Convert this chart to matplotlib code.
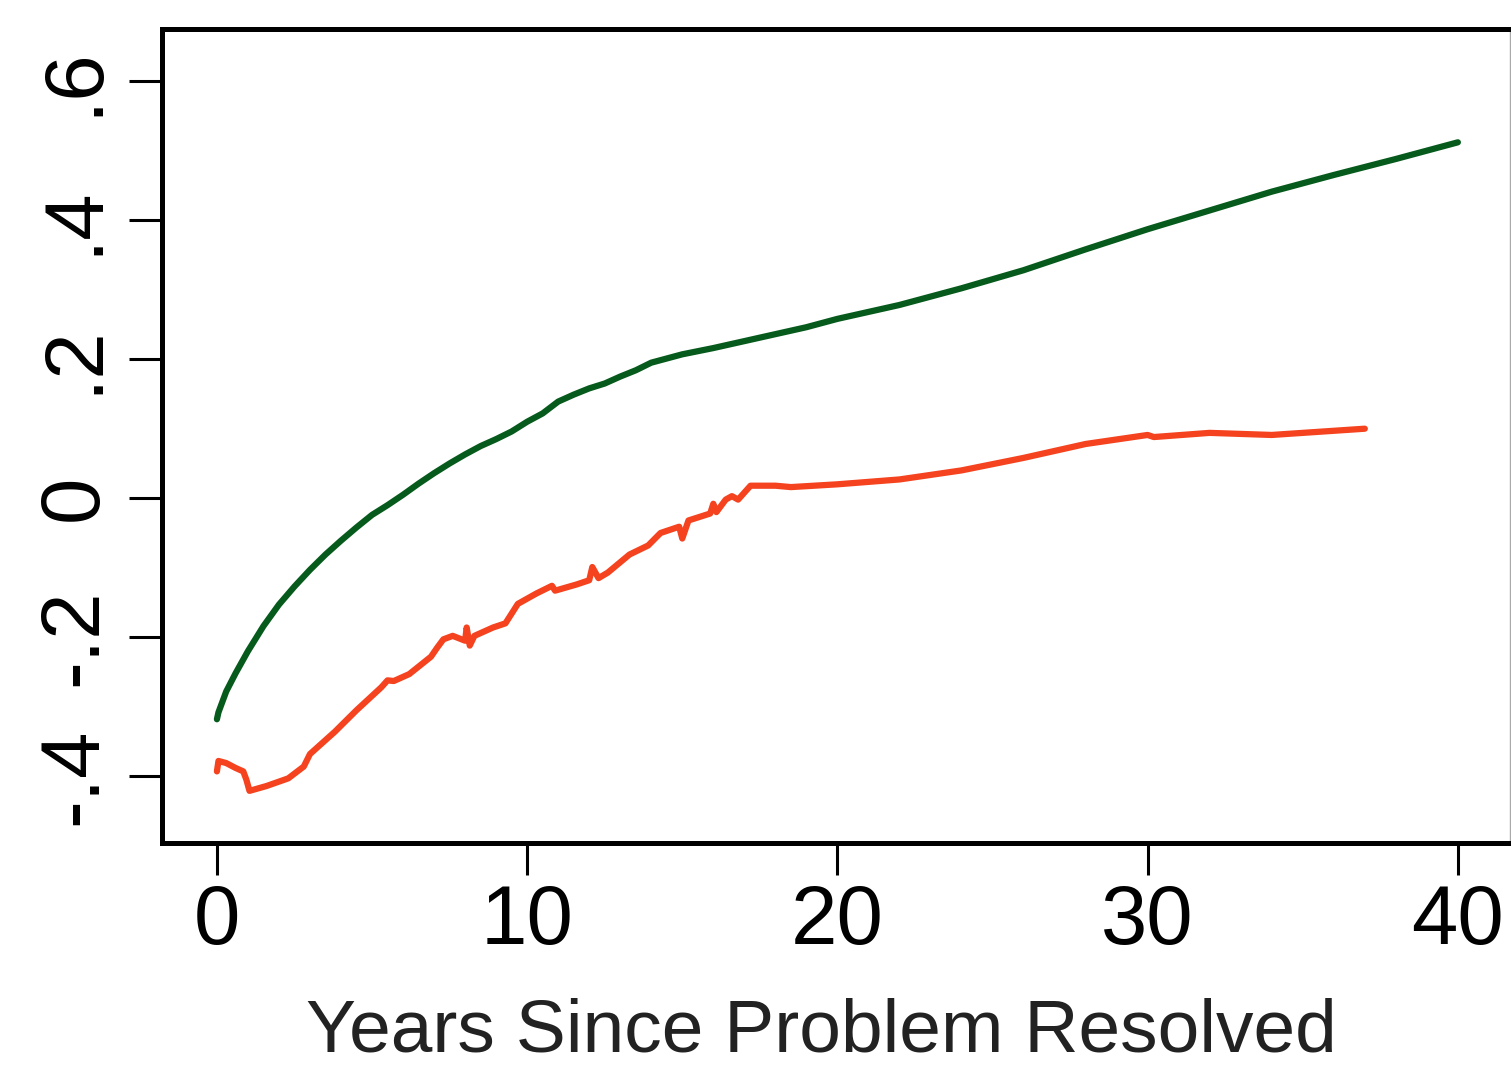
#!/usr/bin/env python3

import matplotlib

matplotlib.use("Agg")
import matplotlib.pyplot as plt

plt.rcParams["font.family"] = ["Liberation Sans", "DejaVu Sans"]

# Values
GREEN_YEARS = [
    0.00, 0.05, 0.3, 0.6, 1.0, 1.5, 2.0, 2.5, 3.0, 3.5, 4.0, 4.5, 5.0, 5.5,
    6.0, 6.5, 7.0, 7.5, 8.0, 8.5, 9.0, 9.5, 10.0, 10.5, 11.0, 11.5, 12.0,
    12.5, 13.0, 13.5, 14.0, 15.0, 16.0, 17.0, 18.0, 19.0, 20.0, 22.0, 24.0,
    26.0, 28.0, 30.0, 32.0, 34.0, 36.0, 38.0, 40.0,
]
GREEN_VALUES = [
    -0.318, -0.308, -0.278, -0.252, -0.220, -0.184, -0.153, -0.127, -0.103,
    -0.081, -0.061, -0.042, -0.024, -0.010, 0.005, 0.021, 0.036, 0.050,
    0.063, 0.075, 0.085, 0.096, 0.110, 0.122, 0.139, 0.149, 0.158, 0.165,
    0.175, 0.184, 0.195, 0.207, 0.216, 0.226, 0.236, 0.246, 0.258, 0.278,
    0.302, 0.328, 0.358, 0.387, 0.414, 0.441, 0.465, 0.488, 0.512,
]

RED_YEARS = [
    0.00, 0.05, 0.3, 0.6, 0.85, 0.95, 1.05, 1.6, 2.3, 2.8, 3.0, 3.8, 4.5,
    5.3, 5.5, 5.7, 6.2, 6.9, 7.1, 7.3, 7.6, 8.0, 8.05, 8.15, 8.3, 8.9, 9.3,
    9.7, 10.3, 10.8, 10.9, 11.6, 12.0, 12.1, 12.3, 12.6, 13.3, 13.9, 14.3,
    14.9, 15.0, 15.2, 15.9, 16.0, 16.1, 16.4, 16.6, 16.8, 17.2, 18.0, 18.5,
    20.0, 22.0, 24.0, 26.0, 28.0, 30.0, 30.2, 32.0, 34.0, 37.0,
]
RED_VALUES = [
    -0.393, -0.378, -0.381, -0.388, -0.393, -0.405, -0.421, -0.414, -0.403,
    -0.386, -0.368, -0.336, -0.305, -0.272, -0.262, -0.263, -0.253, -0.228,
    -0.215, -0.203, -0.198, -0.205, -0.186, -0.212, -0.198, -0.186, -0.180,
    -0.152, -0.137, -0.126, -0.133, -0.124, -0.118, -0.099, -0.115, -0.107,
    -0.081, -0.068, -0.050, -0.041, -0.058, -0.032, -0.022, -0.008, -0.020,
    -0.002, 0.003, -0.002, 0.018, 0.018, 0.016, 0.020, 0.027, 0.040, 0.058,
    0.078, 0.091, 0.088, 0.094, 0.091, 0.100,
]

X_TICKS = [0, 10, 20, 30, 40]
Y_TICKS = [-0.4, -0.2, 0.0, 0.2, 0.4, 0.6]
Y_LABELS = ["-.4", "-.2", "0", ".2", ".4", ".6"]
X_LABEL = "Years Since Problem Resolved"

W, H = 1511, 1067


def main():
    figure = plt.figure(figsize=(W / 100, H / 100), dpi=100)
    axis = figure.add_axes(
        [162 / W, 1 - 843 / H, (1510 - 162) / W, (843 - 29) / H]
    )

    axis.plot(GREEN_YEARS, GREEN_VALUES, color="#065a1c", linewidth=4.5,
              solid_capstyle="round", solid_joinstyle="round")
    axis.plot(RED_YEARS, RED_VALUES, color="#f5421f", linewidth=4.5,
              solid_capstyle="round", solid_joinstyle="round")

    axis.set_xlim(-1.77, 41.68)
    axis.set_ylim(-0.496, 0.675)

    axis.set_xticks(X_TICKS)
    axis.set_yticks(Y_TICKS)
    axis.set_yticklabels(Y_LABELS, rotation=90, va="center")
    axis.tick_params(axis="both", direction="out", width=2.2,
                     labelsize=60, color="black")
    axis.tick_params(axis="x", length=23, pad=6)
    axis.tick_params(axis="y", length=24, pad=11)

    for side in ["left", "top", "bottom"]:
        axis.spines[side].set_linewidth(3.6)
        axis.spines[side].set_color("black")
    axis.spines["right"].set_linewidth(1.0)
    axis.spines["right"].set_color("#aaaaaa")

    axis.set_xlabel(X_LABEL, fontsize=54, color="#222222")
    axis.xaxis.set_label_coords(0.489, -0.190)

    figure.savefig("out.png", dpi=100)


if __name__ == "__main__":
    main()
